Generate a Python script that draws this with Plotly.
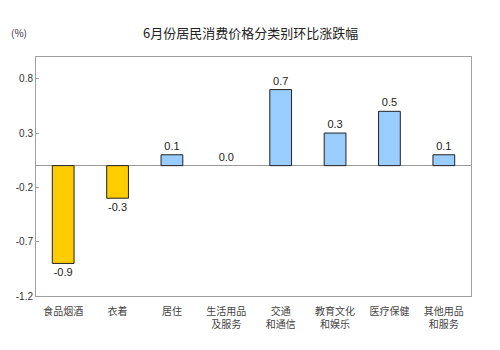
import plotly.graph_objects as go

categories = ["食品烟酒", "衣着", "居住", "生活用品<br>及服务", "交通<br>和通信", "教育文化<br>和娱乐", "医疗保健", "其他用品<br>和服务"]
values = [-0.9, -0.3, 0.1, 0.0, 0.7, 0.3, 0.5, 0.1]
tick_vals = [-1.2, -0.7, -0.2, 0.3, 0.8]
tick_text = ["-1.2", "-0.7", "-0.2", "0.3", "0.8"]

colors = ["#FFCC00" if v < 0 else "#99CCFF" for v in values]
line_widths = [0 if v == 0 else 1 for v in values]
labels = [f"{v:.1f}" for v in values]

fig = go.Figure()
fig.add_trace(go.Bar(
    x=categories, y=values,
    marker=dict(color=colors, line=dict(color="#222222", width=line_widths)),
    text=labels, textposition="outside", cliponaxis=False,
    textfont=dict(family="Liberation Sans, Arial", size=11, color="#222222"),
    width=0.4,
))

plot_w = 500 - 36 - 29
plot_h = 350 - 57 - 54

fig.update_layout(
    width=500, height=350,
    margin=dict(l=36, r=29, t=57, b=54),
    paper_bgcolor="white", plot_bgcolor="white",
    showlegend=False,
    font=dict(family="Noto Sans CJK SC", size=10, color="#333333"),
    annotations=[
        dict(text="6月份居民消费价格分类别环比涨跌幅",
             x=(250 - 36) / plot_w, y=(350 - 54 - 33) / plot_h, xref="paper", yref="paper",
             xanchor="center", yanchor="middle",
             showarrow=False, font=dict(size=13, color="#222222")),
        dict(text="(%)",
             x=(19 - 36) / plot_w, y=(350 - 54 - 33) / plot_h, xref="paper", yref="paper",
             xanchor="center", yanchor="middle",
             showarrow=False, font=dict(size=10, color="#333333")),
    ],
)

fig.update_yaxes(
    range=[-1.2, 1.0], tickvals=tick_vals, ticktext=tick_text,
    showgrid=False, zeroline=True, zerolinecolor="#999999", zerolinewidth=1,
    showline=True, linecolor="#A0A0A0", linewidth=1, mirror=True,
    ticks="inside", ticklen=3, tickcolor="#A0A0A0",
    tickfont=dict(family="Liberation Sans, Arial", size=10, color="#333333"),
)
fig.update_xaxes(
    showgrid=False, showline=True, linecolor="#A0A0A0", linewidth=1, mirror=True,
    ticks="", ticklabelstandoff=6, tickfont=dict(size=10, color="#444444"),
)

fig.write_html("out.html")
